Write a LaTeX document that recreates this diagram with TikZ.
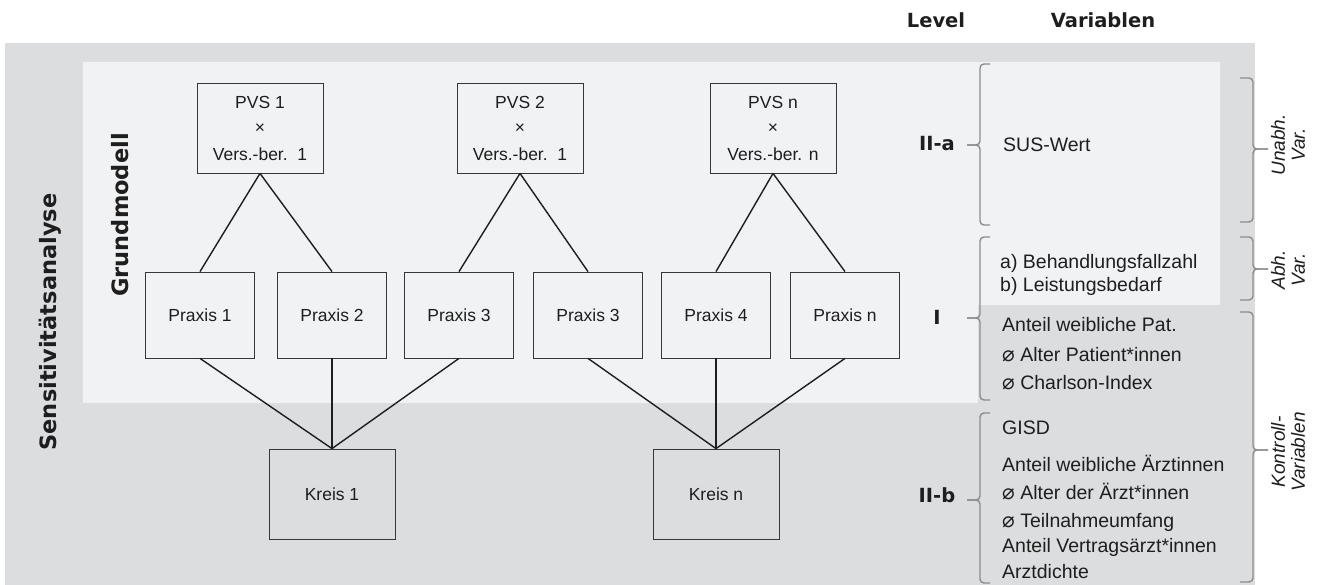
\documentclass[tikz,border=0pt]{standalone}
\usepackage{fontspec}
\setmainfont{Liberation Sans}
\newfontfamily\hdfont{DejaVu Sans}
\newfontfamily\symfont{DejaVu Sans}
\usepackage{xcolor}
\definecolor{cOuter}{RGB}{220,221,223}
\definecolor{cInner}{RGB}{241,242,244}
\definecolor{cBox}{RGB}{55,55,55}
\definecolor{cLink}{RGB}{30,30,30}
\definecolor{cBrak}{RGB}{140,140,140}
\definecolor{cText}{RGB}{30,30,30}
\newcommand{\dm}{{\symfont\fontsize{21}{21}\selectfont\symbol{"2300}}}
\usetikzlibrary{positioning}

\begin{document}
\begin{tikzpicture}[x=1pt, y=-1pt, text=cText,
    box/.style={draw=cBox, line width=0.8pt, align=center, inner sep=0pt,
      font=\fontsize{17.5}{27}\selectfont},
    pvsbox/.style={box, minimum width=126pt, minimum height=90pt},
    praxbox/.style={box, minimum width=109pt, minimum height=86pt},
    link/.style={draw=cLink, line width=1.4pt},
    brak/.style={draw=cBrak, line width=1.4pt, rounded corners=4pt},
    hd/.style={font=\hdfont\bfseries\fontsize{19.5}{22}\selectfont},
    side/.style={font=\hdfont\bfseries\fontsize{22.5}{26}\selectfont, rotate=90},
    var/.style={anchor=west, inner sep=0pt, font=\fontsize{19.5}{22}\selectfont},
    grp/.style={rotate=90, align=center, inner sep=0pt,
      font=\itshape\fontsize{19}{20}\selectfont}]
    \useasboundingbox (0,0) rectangle (1326,585);

    % ---------- background areas ----------
    \fill[cOuter] (5,43) rectangle (1255,585);
    \fill[cInner] (83,62) -- (1220,62) -- (1220,305) -- (978,305)
      -- (978,403) -- (83,403) -- cycle;

    % ---------- headers ----------
    \node[hd] (hlevel) at (936,20) {Level};
    \node[hd] (hvar) at (1103,20) {Variablen};
    \node[side] (sens) at (50,322) {Sensitivitätsanalyse};
    \node[side] (grund) at (120,215) {Grundmodell};

    % ---------- PVS x Versorgungsbereich ----------
    \node[pvsbox] (pvs1) at (260,128) {PVS 1\\[-2pt]×\\Vers.-ber.~~1};
    \node[pvsbox] (pvs2) at (520,128) {PVS 2\\[-2pt]×\\Vers.-ber.~~1};
    \node[pvsbox] (pvsn) at (773,128) {PVS n\\[-2pt]×\\Vers.-ber. n};

    % ---------- Praxen ----------
    \node[praxbox] (p1) at (200,315) {Praxis 1};
    \node[praxbox] (p2) at (332,315) {Praxis 2};
    \node[praxbox] (p3) at (459,315) {Praxis 3};
    \node[praxbox] (p3b) at (588,315) {Praxis 3};
    \node[praxbox] (p4) at (716,315) {Praxis 4};
    \node[praxbox] (pn) at (845,315) {Praxis n};

    % ---------- Kreise ----------
    \node[pvsbox] (k1) at (332,494) {Kreis 1};
    \node[pvsbox] (kn) at (716,494) {Kreis n};

    % ---------- connectors ----------
    \foreach \a/\b in {pvs1/p1, pvs1/p2, pvs2/p3, pvs2/p3b, pvsn/p4, pvsn/pn}
      \draw[link] (\a.south) -- (\b.north);
    \foreach \a/\b in {p1/k1, p2/k1, p3/k1, p3b/kn, p4/kn, pn/kn}
      \draw[link] (\a.south) -- (\b.north);

    % ---------- levels ----------
    \node[hd] (lIIa) at (937,144) {II-a};
    \node[hd] (lI) at (937,317) {I};
    \node[hd] (lIIb) at (937,495) {II-b};

    % ---------- left brackets ----------
    \draw[brak] (990,64) -- (980,64) -- (980,145) -- (967,145);
    \draw[brak] (990,225) -- (980,225) -- (980,145) -- (967,145);
    \draw[brak] (990,237) -- (980,237) -- (980,318) -- (967,318);
    \draw[brak] (990,400) -- (980,400) -- (980,318) -- (967,318);
    \draw[brak] (990,413) -- (980,413) -- (980,500) -- (967,500);
    \draw[brak] (990,583) -- (980,583) -- (980,500) -- (967,500);

    % ---------- variables ----------
    \node[var] (v0) at (1003,145) {SUS-Wert};
    \node[var] (v1) at (1000,263) {a) Behandlungsfallzahl};
    \node[var] (v2) at (1000,286) {b) Leistungsbedarf};
    \node[var] (v3) at (1002,325) {Anteil weibliche Pat.};
    \node[var] (v4) at (1002,355) {\dm\ Alter Patient*innen};
    \node[var] (v5) at (1002,383) {\dm\ Charlson-Index};
    \node[var] (v6) at (1002,428) {GISD};
    \node[var] (v7) at (1002,463) {Anteil weibliche Ärztinnen};
    \node[var] (v8) at (1002,492) {\dm\ Alter der Ärzt*innen};
    \node[var] (v9) at (1002,522) {\dm\ Teilnahmeumfang};
    \node[var] (v10) at (1002,547) {Anteil Vertragsärzt*innen};
    \node[var] (v11) at (1002,572) {Arztdichte};

    % ---------- right brackets ----------
    \draw[brak] (1240,78) -- (1253,78) -- (1253,149) -- (1268,149);
    \draw[brak] (1240,222) -- (1253,222) -- (1253,149) -- (1268,149);
    \draw[brak] (1240,237) -- (1253,237) -- (1253,269) -- (1268,269);
    \draw[brak] (1240,300) -- (1253,300) -- (1253,269) -- (1268,269);
    \draw[brak] (1240,312) -- (1253,312) -- (1253,450) -- (1268,450);
    \draw[brak] (1240,582) -- (1253,582) -- (1253,450) -- (1268,450);
    \node[grp] (gU) at (1288,145) {Unabh.\\Var.};
    \node[grp] (gA) at (1288,270) {Abh.\\Var.};
    \node[grp] (gK) at (1288,452) {Kontroll-\\Variablen};

\end{tikzpicture}
\end{document}
